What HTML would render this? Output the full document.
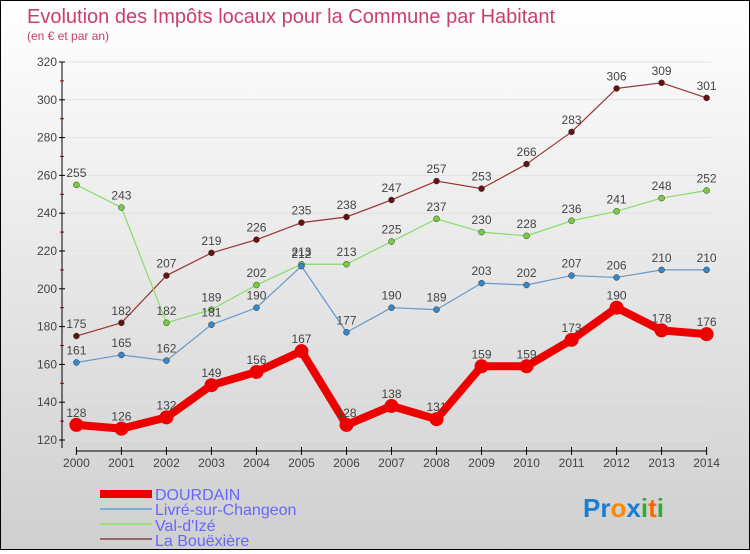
<!DOCTYPE html>
<html><head><meta charset="utf-8"><style>
body{margin:0}
#c{width:748px;height:548px;border:1px solid #000;background:linear-gradient(#ffffff,#cfcfcf);position:relative;font-family:"Liberation Sans",sans-serif}
</style></head><body>
<div id="c">
<svg id="s" width="748" height="548">
<text x="26" y="22" font-size="20" fill="#c8406a">Evolution des Impôts locaux pour la Commune par Habitant</text>
<text x="26" y="39" font-size="12" fill="#c8406a">(en € et par an)</text>
<text x="154" y="499" font-size="16" fill="#6666ff">DOURDAIN</text>
<text x="154" y="514" font-size="16" fill="#6666ff">Livré-sur-Changeon</text>
<text x="154" y="530" font-size="16" fill="#6666ff">Val-d'Izé</text>
<text x="154" y="545" font-size="16" fill="#6666ff">La Bouëxière</text>
<rect x="99" y="489" width="52" height="8" fill="#ee0000"/>
<rect x="99" y="507" width="52" height="2" fill="#7aaed0"/>
<rect x="99" y="522" width="52" height="2" fill="#99dd77"/>
<rect x="99" y="537" width="52" height="2" fill="#996666"/>
<text x="582" y="516" font-size="26" font-weight="bold"><tspan fill="#1a7fd0">Pr</tspan><tspan fill="#ff8800">o</tspan><tspan fill="#1a7fd0">x</tspan><tspan fill="#33aa33">i</tspan><tspan fill="#ff6600">t</tspan><tspan fill="#33aa33">i</tspan></text>
</svg></div>
<script>
const years=[2000,2001,2002,2003,2004,2005,2006,2007,2008,2009,2010,2011,2012,2013,2014];
const dourdain=[128,126,132,149,156,167,128,138,131,159,159,173,190,178,176];
const livre=[161,165,162,181,190,212,177,190,189,203,202,207,206,210,210];
const valdize=[255,243,182,189,202,213,213,225,237,230,228,236,241,248,252];
const bouexiere=[175,182,207,219,226,235,238,247,257,253,266,283,306,309,301];
const yTicks=[120,140,160,180,200,220,240,260,280,300,320];
const s=document.getElementById('s');const NS='http://www.w3.org/2000/svg';
const X=i=>75.4+i*(705.6-75.4)/14;
const Y=v=>439-(v-120)*(378/200);
function el(t,a,p){const e=document.createElementNS(NS,t);for(const k in a)e.setAttribute(k,a[k]);(p||s).appendChild(e);return e;}
yTicks.forEach(v=>{const g=el('line',{x1:62,x2:710,y1:Y(v),y2:Y(v),stroke:'#e2e2e2','stroke-width':1});


const t=el('line',{x1:58,x2:64,y1:Y(v),y2:Y(v),stroke:'#000'});


const l=el('text',{x:56,y:Y(v)+4,'text-anchor':'end','font-size':12,fill:'#444'});l.textContent=v;


if(v<320){const m=el('line',{x1:59,x2:63,y1:Y(v+10),y2:Y(v+10),stroke:'#cc0000'});

}});
const ya=el('line',{x1:61,x2:61,y1:Y(320),y2:Y(120)+8,stroke:'#000'});


const xa=el('line',{x1:X(0),x2:X(14),y1:450,y2:450,stroke:'#000'});


years.forEach((y,i)=>{const t=el('line',{x1:X(i),x2:X(i),y1:446,y2:454,stroke:'#000'});


const l=el('text',{x:X(i),y:466,'text-anchor':'middle','font-size':12,fill:'#444'});l.textContent=y;

});
function series(d,color,w,r,name,dot){
const pts=d.map((v,i)=>X(i)+','+Y(v)).join(' ');
const p=el('polyline',{points:pts,fill:'none',stroke:color,'stroke-width':w,'stroke-linejoin':'round'});


d.forEach((v,i)=>{const c=el('circle',{cx:X(i),cy:Y(v),r:r,fill:dot,stroke:w>3?color:'#333','stroke-width':w>3?0:0.5});


const l=el('text',{x:X(i),y:Y(v)-8,'text-anchor':'middle','font-size':12,fill:'#444'});l.textContent=v;

});}
series(bouexiere,'#993333',1.2,3,'la-bouexiere','#661111');
series(valdize,'#88dd66',1.2,3,'val-dize','#77cc44');
series(livre,'#6699cc',1.2,3,'livre','#3388cc');
series(dourdain,'#ee0000',8,7,'dourdain','#ee0000');
</script></body></html>
